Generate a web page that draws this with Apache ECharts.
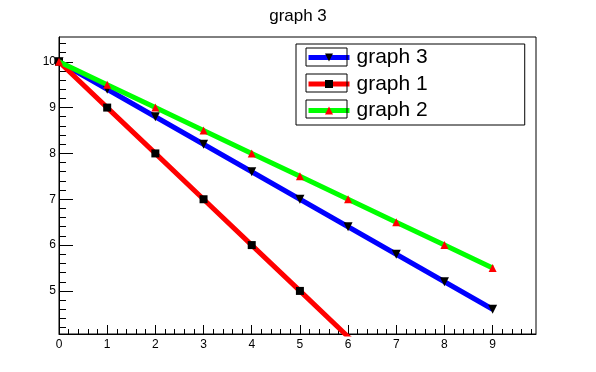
<!DOCTYPE html>
<html>
<head>
<meta charset="utf-8">
<script src="https://cdn.jsdelivr.net/npm/echarts@6/dist/echarts.min.js"></script>
<style>html,body{margin:0;padding:0;background:#fff}#c{width:596px;height:372px}</style>
</head>
<body>
<div id="c"></div>
<script>
var xValues = [0, 1, 2, 3, 4, 5, 6, 7, 8, 9];
var graph3Y = [10, 9.4, 8.8, 8.2, 7.6, 7.0, 6.4, 5.8, 5.2, 4.6];
var graph1Y = [10, 9, 8, 7, 6, 5, 4, 3, 2, 1];
var graph2Y = [10, 9.5, 9, 8.5, 8, 7.5, 7, 6.5, 6, 5.5];
var xTickLabels = [0, 1, 2, 3, 4, 5, 6, 7, 8, 9];
var yTickLabels = [5, 6, 7, 8, 9, 10];
var xRange = [0, 9.9];
var yRange = [4.06, 10.54];

function minorTicks(lo, hi, step, majors) {
  var out = [];
  var start = Math.ceil(lo / step - 1e-9);
  for (var k = start; k * step <= hi + 1e-9; k++) {
    var v = Math.round(k * step * 100) / 100;
    if (majors.indexOf(v) < 0) out.push(v);
  }
  return out;
}
var xMinor = minorTicks(xRange[0], xRange[1], 0.2, xTickLabels);
var yMinor = minorTicks(yRange[0], yRange[1], 0.2, yTickLabels);

function pts(ys) { return xValues.map(function (x, i) { return [x, ys[i]]; }); }

var font = 'Liberation Sans, Arial, Helvetica, sans-serif';
var chart = echarts.init(document.getElementById('c'), null, { renderer: 'canvas' });
var gridL = 59, gridT = 37, gridR = 60, gridB = 38;
var hiddenAxisLine = { show: false };
chart.setOption({
  animation: false,
  backgroundColor: '#fff',
  title: {
    text: 'graph 3', left: 'center', top: 3,
    textStyle: { fontFamily: font, fontSize: 17, fontWeight: 'normal', color: '#000' }
  },
  grid: { left: gridL, top: gridT, right: gridR, bottom: gridB, show: true, borderColor: '#000', borderWidth: 1, backgroundColor: 'transparent' },
  legend: {
    orient: 'vertical', left: 296, top: 44,
    data: ['graph 3', 'graph 1', 'graph 2'],
    itemWidth: 41, itemHeight: 10, itemGap: 5.5,
    padding: [3, 97, 4, 10],
    borderColor: '#000', borderWidth: 1,
    lineStyle: { width: 5 },
    textStyle: { fontFamily: font, fontSize: 21, color: '#000', lineHeight: 20, padding: [0, 0, 0, 2] },
    selectedMode: false
  },
  xAxis: [{
    type: 'value', min: xRange[0], max: xRange[1], position: 'bottom',
    axisLine: { show: true, onZero: false, lineStyle: { color: '#000', width: 1 } },
    axisTick: { show: true, inside: true, length: 9, customValues: xTickLabels, lineStyle: { color: '#000' } },
    axisLabel: { customValues: xTickLabels, color: '#000', fontFamily: font, fontSize: 12, margin: 5 },
    splitLine: { show: false }
  }, {
    type: 'value', min: xRange[0], max: xRange[1], position: 'bottom', gridIndex: 0,
    axisLine: hiddenAxisLine,
    axisTick: { show: true, inside: true, length: 5, customValues: xMinor, lineStyle: { color: '#000' } },
    axisLabel: { show: false },
    splitLine: { show: false }
  }],
  yAxis: [{
    type: 'value', min: yRange[0], max: yRange[1], position: 'left',
    axisLine: { show: true, onZero: false, lineStyle: { color: '#000', width: 1 } },
    axisTick: { show: true, inside: true, length: 14, customValues: yTickLabels, lineStyle: { color: '#000' } },
    axisLabel: { customValues: yTickLabels, color: '#000', fontFamily: font, fontSize: 12, margin: 3 },
    splitLine: { show: false }
  }, {
    type: 'value', min: yRange[0], max: yRange[1], position: 'left', gridIndex: 0,
    axisLine: hiddenAxisLine,
    axisTick: { show: true, inside: true, length: 7, customValues: yMinor, lineStyle: { color: '#000' } },
    axisLabel: { show: false },
    splitLine: { show: false }
  }],
  graphic: [
    { type: 'rect', shape: { x: 306, y: 48, width: 41, height: 18 }, style: { fill: 'none', stroke: '#000', lineWidth: 1 }, z: 200 },
    { type: 'rect', shape: { x: 306, y: 74, width: 41, height: 18 }, style: { fill: 'none', stroke: '#000', lineWidth: 1 }, z: 200 },
    { type: 'rect', shape: { x: 306, y: 100, width: 41, height: 18 }, style: { fill: 'none', stroke: '#000', lineWidth: 1 }, z: 200 }
  ],
  series: [{
    name: 'graph 3', type: 'line', data: pts(graph3Y), clip: true,
    lineStyle: { color: '#0000ff', width: 5 }, color: '#0000ff',
    symbol: 'triangle', symbolRotate: 180, symbolSize: 9, showAllSymbol: true,
    itemStyle: { color: '#000' }, z: 2
  }, {
    name: 'graph 1', type: 'line', data: pts(graph1Y), clip: true,
    lineStyle: { color: '#ff0000', width: 5 },
    symbol: 'rect', symbolSize: 8, showAllSymbol: true,
    itemStyle: { color: '#000' }, z: 3
  }, {
    name: 'graph 2', type: 'line', data: pts(graph2Y), clip: true,
    lineStyle: { color: '#00ff00', width: 5 },
    symbol: 'triangle', symbolSize: 8, showAllSymbol: true,
    itemStyle: { color: '#ff0000' }, z: 4
  }]
});
</script>
</body>
</html>
